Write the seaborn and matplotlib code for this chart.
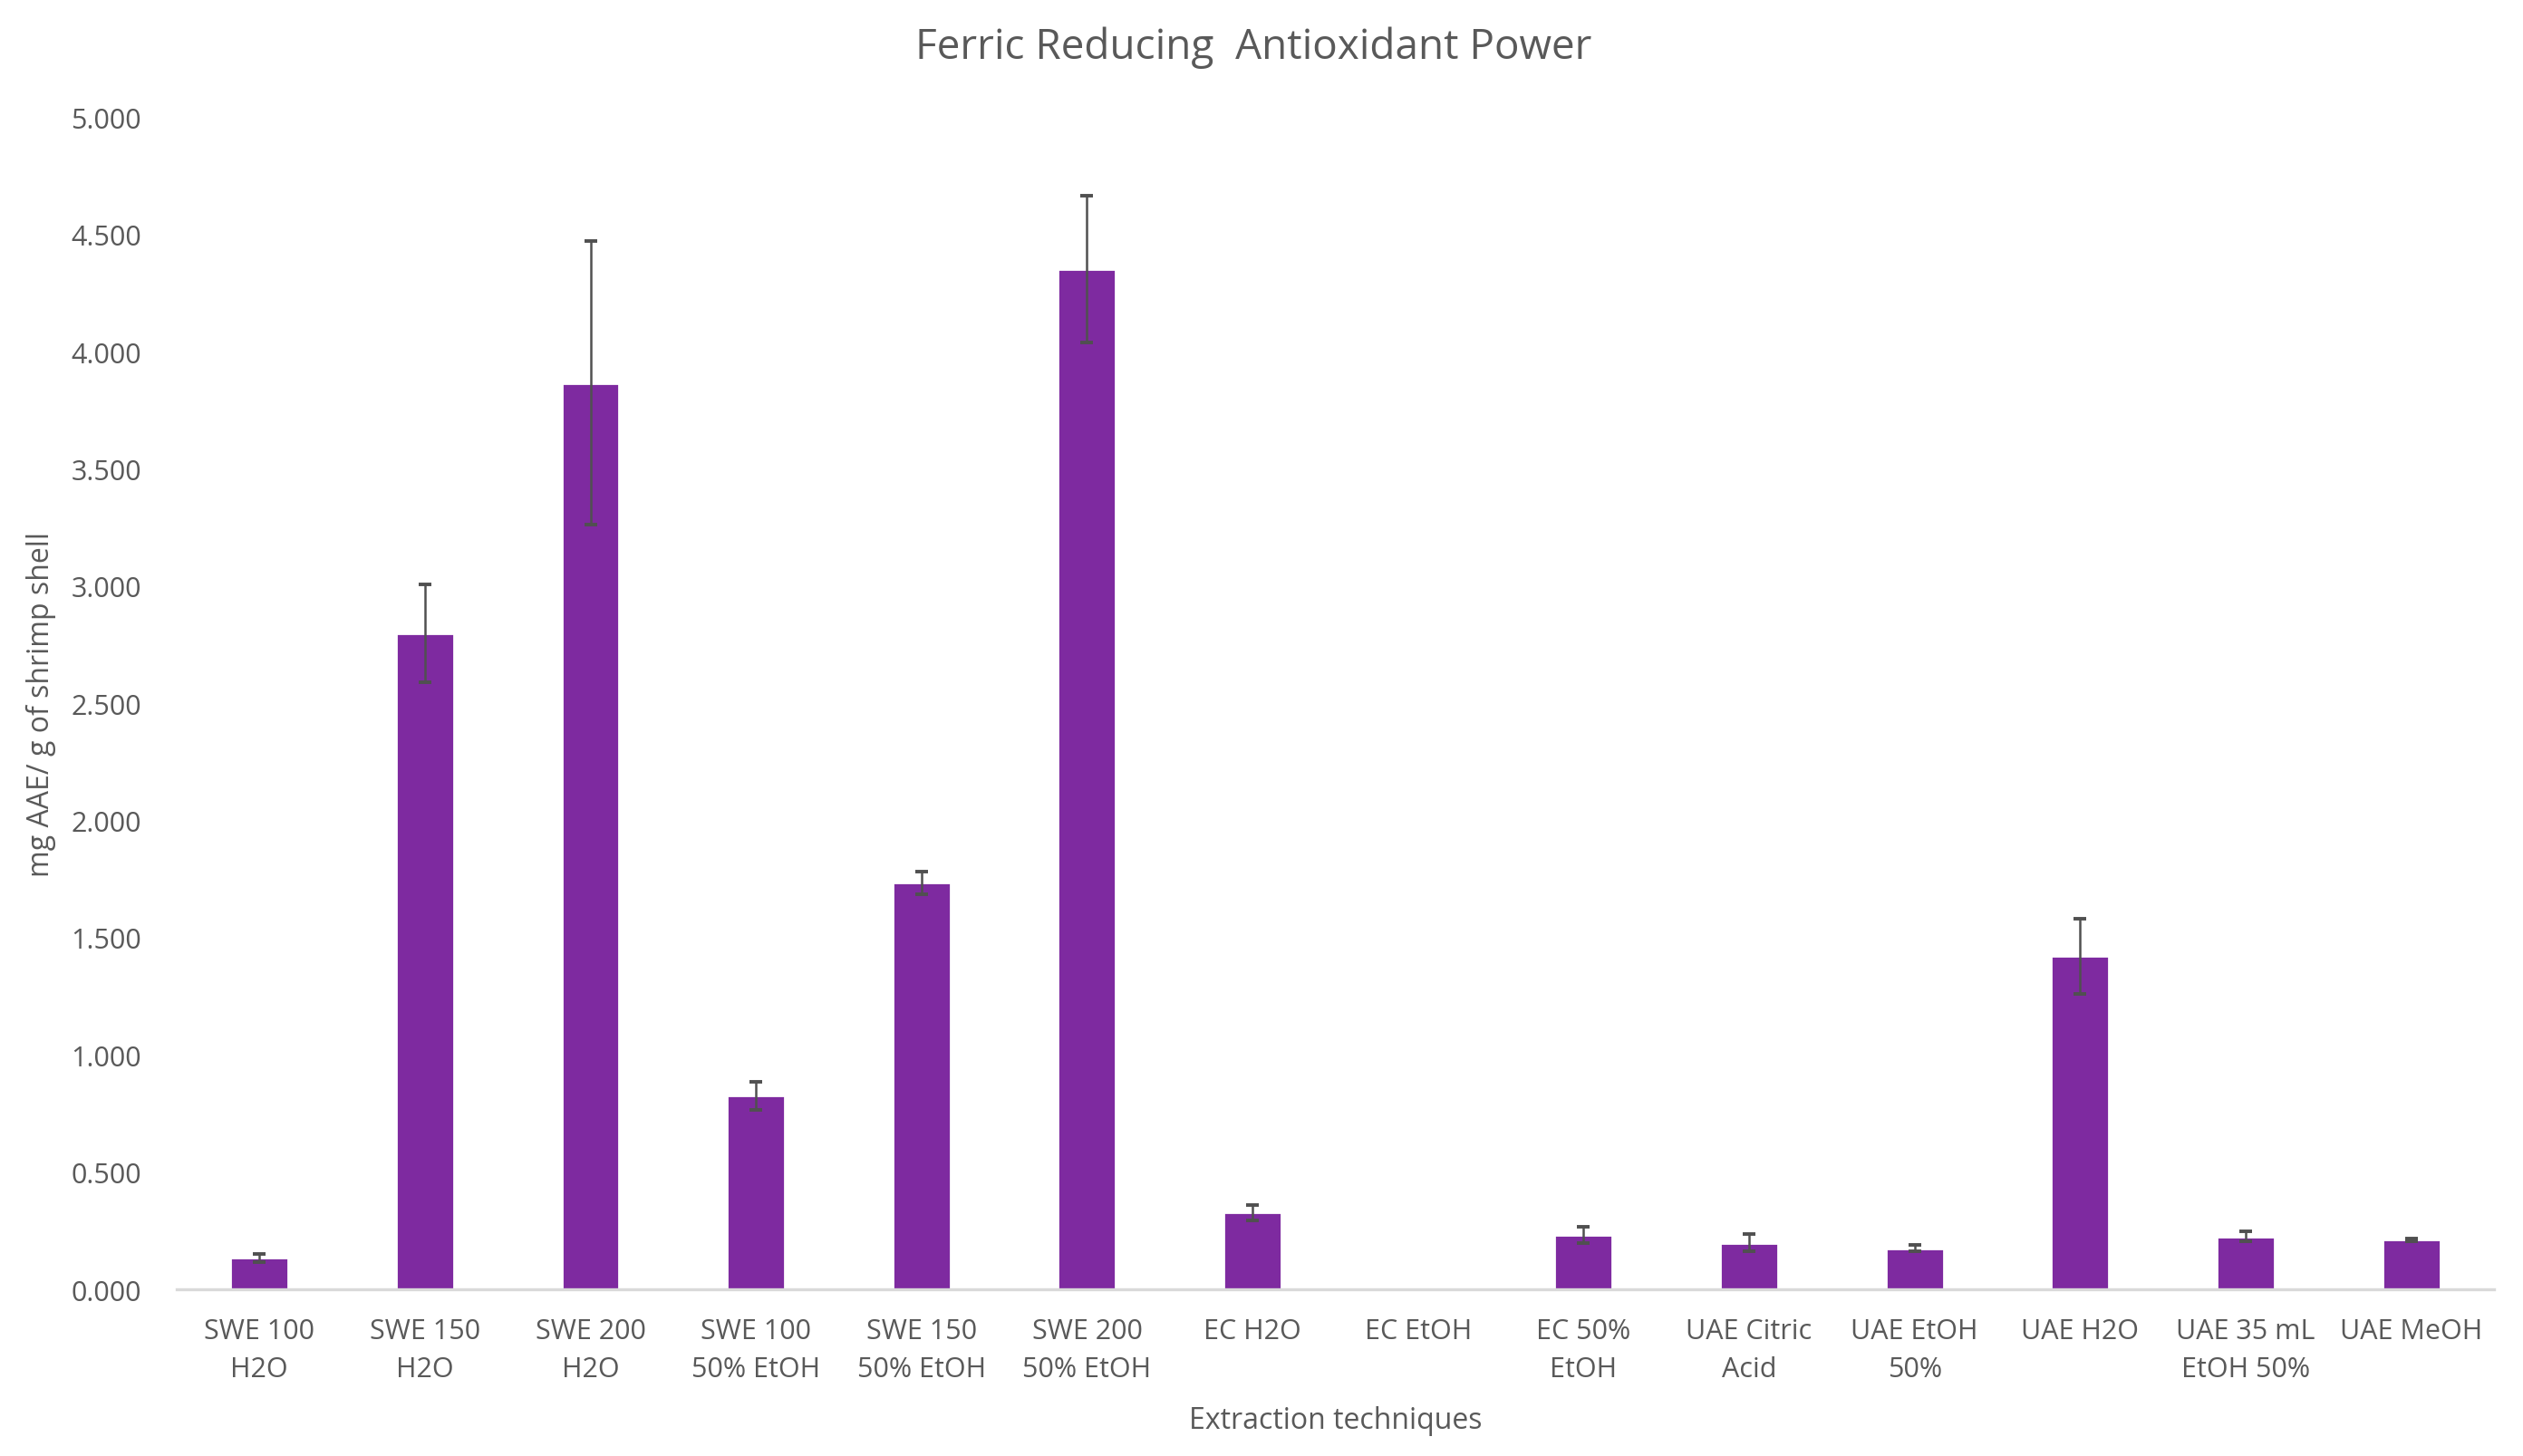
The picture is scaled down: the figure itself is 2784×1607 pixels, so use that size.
import pandas as pd
import seaborn as sns
import matplotlib.pyplot as plt

# data
categories = ["SWE 100\nH2O", "SWE 150\nH2O", "SWE 200\nH2O", "SWE 100\n50% EtOH",
              "SWE 150\n50% EtOH", "SWE 200\n50% EtOH", "EC H2O", "EC EtOH",
              "EC 50%\nEtOH", "UAE Citric\nAcid", "UAE EtOH\n50%", "UAE H2O",
              "UAE 35 mL\nEtOH 50%", "UAE MeOH"]
frap = [0.134, 2.798, 3.866, 0.826, 1.735, 4.352, 0.327, 0.0,
        0.232, 0.198, 0.176, 1.421, 0.226, 0.212]
frap_sd = [0.017, 0.21, 0.605, 0.06, 0.048, 0.313, 0.033, 0.0,
           0.033, 0.037, 0.013, 0.16, 0.02, 0.006]
y_ticks = [0, 0.5, 1, 1.5, 2, 2.5, 3, 3.5, 4, 4.5, 5]

df = pd.DataFrame({"Technique": categories, "FRAP": frap, "SD": frap_sd})

sns.set_style("white")
plt.rcParams['font.family'] = ['Open Sans', 'DejaVu Sans']
text_grey = "#595959"

fig = plt.figure(figsize=(13.92, 8.04), dpi=200)
ax = fig.add_axes([0.070, 0.1144, 0.9185, 0.8046])

sns.barplot(data=df, x="Technique", y="FRAP", color="#7E2AA0", saturation=1,
            width=0.35, errorbar=None, ax=ax)
# error bars on top of the bars (skip the empty EC EtOH one)
pos = pd.Series(ax.get_xticks(), index=df.index)
has_err = df["SD"] > 0
ax.errorbar(pos[has_err], df.loc[has_err, "FRAP"], yerr=df.loc[has_err, "SD"], fmt="none",
            ecolor="#505050", elinewidth=0.9, capsize=2.6, capthick=1.4)

ax.set_ylim(0, 5)
ax.set_xlim(-0.5, len(categories) - 0.5)
ax.set_yticks(y_ticks)
ax.set_yticklabels([f"{t:.3f}" for t in y_ticks])
ax.tick_params(axis="both", length=0, labelsize=11, colors=text_grey)
ax.tick_params(axis="x", pad=11)
ax.tick_params(axis="y", pad=14)
for lbl in ax.get_xticklabels():
    lbl.set_linespacing(1.55)

sns.despine(ax=ax, left=True)
ax.spines["bottom"].set_color("#D9D9D9")
ax.spines["bottom"].set_linewidth(1.2)

ax.set_xlabel("Extraction techniques", fontsize=11.5, color=text_grey, labelpad=9)
ax.set_ylabel("mg AAE/ g of shrimp shell", fontsize=11.5, color=text_grey, labelpad=6)
fig.text(0.497, 0.967, "Ferric Reducing  Antioxidant Power", fontsize=16.5,
         color=text_grey, ha="center", va="center")

fig.savefig("out.png", dpi=200)
